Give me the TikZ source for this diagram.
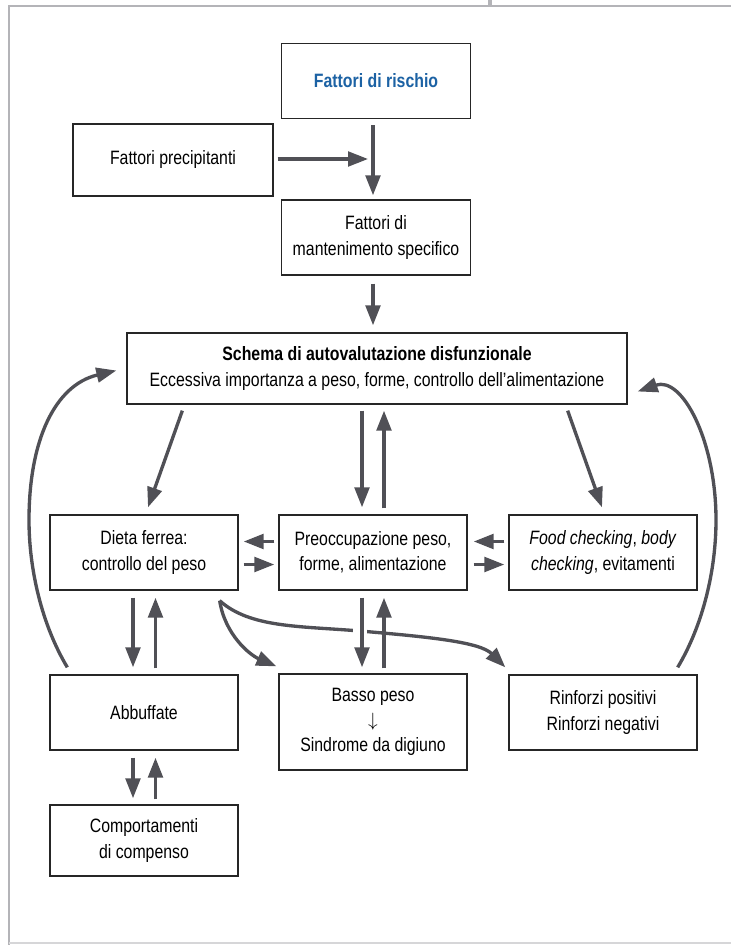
\documentclass[tikz,border=0pt]{standalone}
\usepackage{fontspec}
\setmainfont{Liberation Sans}[FakeStretch=0.82]
\usetikzlibrary{arrows.meta,calc}
\definecolor{arr}{RGB}{80,80,86}
\definecolor{framec}{RGB}{180,180,184}
\definecolor{framel}{RGB}{214,214,216}
\definecolor{blu}{RGB}{28,98,164}
\begin{document}
\begin{tikzpicture}[x=0.75pt,y=-0.75pt,
  box/.style={draw=black!85, line width=1pt, fill=white, align=center, inner sep=0pt,
              font=\fontsize{14.5pt}{19pt}\selectfont},
  wh/.style 2 args={minimum width=#1*0.75pt, minimum height=#2*0.75pt},
  ar/.style={draw=arr, line width=2.5pt, -{Triangle[length=15pt,width=11pt]}},
]
\useasboundingbox (0,0) rectangle (731,945);
% frame
\draw[framec, line width=1.6pt] (731,6) -- (9,6) -- (9,945);
\draw[framec, line width=3.5pt] (490,0) -- (490,6);
\draw[framel, line width=1.5pt] (9,942.5) -- (731,942.5);

% boxes
\node[box, wh={189}{75}] (risk) at (376,81) {\textcolor{blu}{\bfseries Fattori di rischio}};
\node[box, wh={200}{72}] (prec) at (173,160) {Fattori precipitanti};
\node[box, wh={189}{75}] (mant) at (376,237.5) {Fattori di\\mantenimento specifico};
\node[box, wh={500}{71}] (schema) at (377,368.5) {{\bfseries Schema di autovalutazione disfunzionale}\\Eccessiva importanza a peso, forme, controllo dell’alimentazione};
\node[box, wh={188}{75}] (dieta) at (144,552.5) {Dieta ferrea:\\controllo del peso};
\node[box, wh={188}{75}] (preo) at (373,552.5) {Preoccupazione peso,\\forme, alimentazione};
\node[box, wh={188}{75}] (food) at (603,552.5) {\textit{Food checking}, \textit{body}\\\textit{checking}, evitamenti};
\node[box, wh={188}{75}] (abb) at (144,712.5) {Abbuffate};
\node[box, wh={188}{96}] (basso) at (373,722) {Basso peso\\$\downarrow$\\Sindrome da digiuno};
\node[box, wh={188}{75}] (rinf) at (603,712.5) {Rinforzi positivi\\Rinforzi negativi};
\node[box, wh={188}{71}] (comp) at (144,840.5) {Comportamenti\\di compenso};

% top arrows
\coordinate (join) at (368,159);
\draw[ar] ($(risk.south)+(-3,6)$) -- ($(mant.north)+(-3,-4)$);
\draw[ar] ($(prec.east)+(4,-1)$) -- (join);
\draw[ar] ($(mant.south)+(-3,8)$) -- ($(schema.north)+(-4,-7)$);

% schema to row 2
\draw[ar] ($(schema.south west)+(56,6)$) -- ($(dieta.north)+(4,-7)$);
\draw[ar] ($(schema.south east)+(-60,6)$) -- ($(food.north)+(-1,-7)$);
\draw[ar] ($(schema.south)+(-15,6)$) -- ($(preo.north)+(-11,-7)$);
\draw[ar] ($(preo.north)+(11,-6)$) -- ($(schema.south)+(7,6)$);

% row 2 horizontal
\draw[ar] ($(preo.west)+(-4,-11)$) -- ($(dieta.east)+(5,-11)$);
\draw[ar] ($(dieta.east)+(5,12)$) -- ($(preo.west)+(-4,12)$);
\draw[ar] ($(food.west)+(-4,-11)$) -- ($(preo.east)+(6,-11)$);
\draw[ar] ($(preo.east)+(6,12)$) -- ($(food.west)+(-4,12)$);

% curves from dieta
\draw[ar] ($(dieta.south east)+(-19,10)$) .. controls (225,635) and (250,655) .. ($(basso.north west)+(-2,-7)$);
\draw[ar] ($(dieta.south east)+(-19,10)$) .. controls (250,628) and (300,626) .. (360,631)
          .. controls (430,637) and (480,642) .. ($(rinf.north west)+(-3,-7)$);
\fill[white] (353,624) rectangle (367,638);

% row 2 to row 3
\draw[ar] ($(preo.south)+(-11,7)$) -- ($(basso.north)+(-11,-6)$);
\draw[ar] ($(basso.north)+(11,-5)$) -- ($(preo.south)+(11,7)$);
\draw[ar] ($(dieta.south)+(-11,7)$) -- ($(abb.north)+(-11,-7)$);
\draw[ar] ($(abb.north)+(11.5,-6)$) -- ($(dieta.south)+(11.5,7)$);
\draw[ar] ($(abb.south)+(-11,7)$) -- ($(comp.north)+(-11,-6)$);
\draw[ar] ($(comp.north)+(11.5,-5)$) -- ($(abb.south)+(11.5,7)$);

% big side curves
\draw[ar] ($(abb.north west)+(18,-7)$) .. controls (42,625) and (29,570) .. (29,520)
          .. controls (29,440) and (55,385) .. ($(schema.west)+(-10,2)$);
\draw[ar] ($(rinf.north east)+(-20,-7)$) .. controls (703,625) and (716,570) .. (716,520)
          .. controls (716,440) and (682,376) .. ($(schema.east)+(10,23)$);
\end{tikzpicture}
\end{document}
